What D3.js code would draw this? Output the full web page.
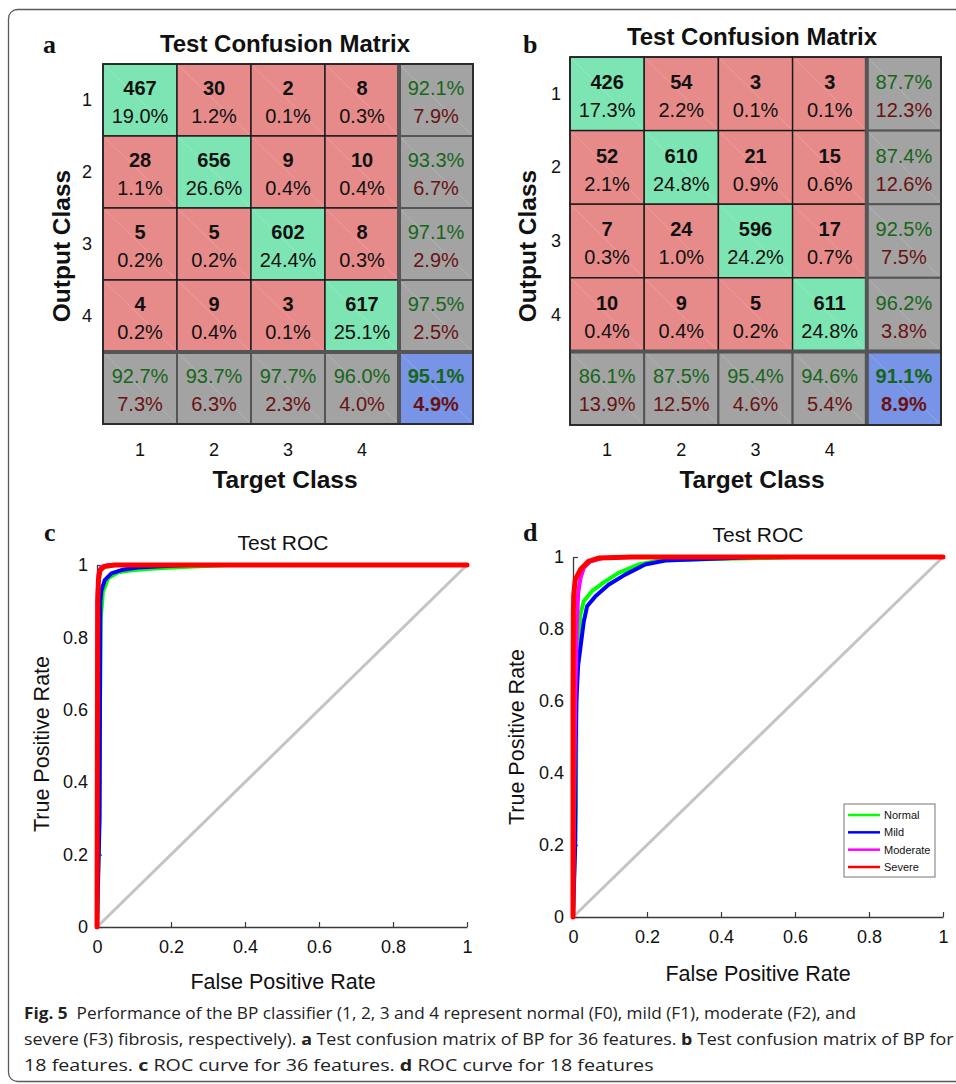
<!DOCTYPE html>
<html><head><meta charset="utf-8">
<script src="https://cdn.jsdelivr.net/npm/d3@7/dist/d3.min.js"></script>
<style>
html,body{margin:0;padding:0;background:#fff;}
svg{display:block;}
</style></head>
<body>
<svg id="fig" width="956" height="1084"></svg>
<script>
// ---------------- DATA ----------------
const classes = ["1", "2", "3", "4"];

// Panel a: 36 features
const countsA = [[467, 30, 2, 8], [28, 656, 9, 10], [5, 5, 602, 8], [4, 9, 3, 617]];
const pctA = [[19.0, 1.2, 0.1, 0.3], [1.1, 26.6, 0.4, 0.4], [0.2, 0.2, 24.4, 0.3], [0.2, 0.4, 0.1, 25.1]];
const rowPrecA = [92.1, 93.3, 97.1, 97.5];
const colRecA = [92.7, 93.7, 97.7, 96.0];
const overallA = 95.1;

// Panel b: 18 features
const countsB = [[426, 54, 3, 3], [52, 610, 21, 15], [7, 24, 596, 17], [10, 9, 5, 611]];
const pctB = [[17.3, 2.2, 0.1, 0.1], [2.1, 24.8, 0.9, 0.6], [0.3, 1.0, 24.2, 0.7], [0.4, 0.4, 0.2, 24.8]];
const rowPrecB = [87.7, 87.4, 92.5, 96.2];
const colRecB = [86.1, 87.5, 95.4, 94.6];
const overallB = 91.1;

// ROC tick labels
const rocTicks = [0, 0.2, 0.4, 0.6, 0.8, 1];
const rocNames = ["Normal", "Mild", "Moderate", "Severe"];

// Panel c ROC points [FPR, TPR]
const normalC = [[0,0],[0.006,0.3],[0.008,0.6],[0.01,0.85],[0.016,0.926],[0.03,0.963],[0.057,0.98],[0.1,0.986],[0.156,0.99],[0.246,0.995],[0.354,1],[1,1]];
const mildC = [[0,0],[0.007,0.3],[0.008,0.6],[0.009,0.9],[0.012,0.93],[0.021,0.958],[0.039,0.977],[0.066,0.986],[0.11,0.993],[0.2,0.998],[0.246,1],[1,1]];
const moderateC = [[0,0],[0,0.5],[0.001,0.9],[0.004,0.975],[0.012,0.995],[0.03,1],[1,1]];
const severeC = [[0,0],[0.001,0.5],[0.002,0.9],[0.004,0.96],[0.008,0.985],[0.02,0.996],[0.048,1],[1,1]];

// Panel d ROC points [FPR, TPR]
const normalD = [[0,0],[0.008,0.3],[0.009,0.55],[0.011,0.747],[0.02,0.84],[0.029,0.877],[0.051,0.905],[0.087,0.932],[0.123,0.956],[0.177,0.979],[0.231,0.99],[0.34,0.994],[0.52,0.997],[0.6,1],[1,1]];
const mildD = [[0,0],[0.006,0.2],[0.007,0.45],[0.009,0.6],[0.014,0.7],[0.02,0.747],[0.029,0.82],[0.038,0.863],[0.06,0.89],[0.096,0.923],[0.141,0.951],[0.195,0.979],[0.249,0.99],[0.34,0.994],[0.43,0.997],[0.5,1],[1,1]];
const moderateD = [[0,0],[0.003,0.3],[0.006,0.6],[0.01,0.8],[0.014,0.9],[0.02,0.94],[0.029,0.97],[0.047,0.988],[0.08,0.997],[0.15,1],[1,1]];
const severeD = [[0,0],[0,0.6],[0.001,0.85],[0.002,0.895],[0.006,0.937],[0.02,0.965],[0.042,0.988],[0.069,0.997],[0.16,1],[1,1]];

// ---------------- STYLE ----------------
const SANS = "'Liberation Sans', Arial, Helvetica, sans-serif";
const SERIF = "'Liberation Serif', 'Times New Roman', serif";
const C_GREEN = "#7de5b4", C_RED = "#e68b89", C_GRAY = "#a3a3a3", C_BLUE = "#7894e6";
const T_GREEN = "#17661a", T_RED = "#6a1212";
const rocColors = ["#00ff00", "#0000ff", "#ff00ff", "#ff0000"];
const rocWidths = [4, 4, 4, 5];

const svg = d3.select("#fig");
svg.append("rect").attr("width", 956).attr("height", 1084).attr("fill", "#fff");
// outer frame
svg.append("rect").attr("x", 8.5).attr("y", 9.5).attr("width", 980).attr("height", 1072)
  .attr("rx", 9).attr("fill", "none").attr("stroke", "#5a5a5a").attr("stroke-width", 1.3);

const fmt = d3.format(".1f");

function confusion(opt) {
  const g = svg.append("g");
  const labels = classes.concat(["S"]);
  const x = d3.scaleBand().domain(labels).range([opt.x0, opt.x1]);
  const y = d3.scaleBand().domain(labels).range([opt.y0, opt.y1]);
  const cells = [];
  labels.forEach((r, i) => labels.forEach((c, j) => cells.push({r, c, i, j})));
  const cg = g.selectAll("g.cell").data(cells).join("g");
  cg.append("rect")
    .attr("x", d => x(d.c)).attr("y", d => y(d.r))
    .attr("width", x.bandwidth()).attr("height", y.bandwidth())
    .attr("fill", d => {
      if (d.i === 4 && d.j === 4) return C_BLUE;
      if (d.i === 4 || d.j === 4) return C_GRAY;
      return d.i === d.j ? C_GREEN : C_RED;
    })
    .attr("stroke", d => (d.i === 4 || d.j === 4) ? "#555" : "#1a1a1a")
    .attr("stroke-width", d => (d.i === 4 || d.j === 4) ? 2 : 1.4);
  // faint diagonal patch seams
  cg.append("line")
    .attr("x1", d => x(d.c) + 2).attr("y1", d => y(d.r) + 2)
    .attr("x2", d => x(d.c) + x.bandwidth() - 2).attr("y2", d => y(d.r) + y.bandwidth() - 2)
    .attr("stroke", "#fff").attr("stroke-opacity", 0.18).attr("stroke-width", 1);
  // top text
  cg.append("text")
    .attr("x", d => x(d.c) + x.bandwidth() / 2)
    .attr("y", d => y(d.r) + y.bandwidth() * 0.34)
    .attr("text-anchor", "middle").attr("dominant-baseline", "central")
    .attr("font-family", SANS).attr("font-size", 20)
    .attr("font-weight", d => (d.i < 4 && d.j < 4) || (d.i === 4 && d.j === 4) ? "bold" : "normal")
    .attr("fill", d => (d.i < 4 && d.j < 4) ? "#111" : T_GREEN)
    .text(d => {
      if (d.i < 4 && d.j < 4) return opt.counts[d.i][d.j];
      if (d.i === 4 && d.j === 4) return fmt(opt.overall) + "%";
      if (d.j === 4) return fmt(opt.rowPrec[d.i]) + "%";
      return fmt(opt.colRec[d.j]) + "%";
    });
  cg.append("text")
    .attr("x", d => x(d.c) + x.bandwidth() / 2)
    .attr("y", d => y(d.r) + y.bandwidth() * 0.72)
    .attr("text-anchor", "middle").attr("dominant-baseline", "central")
    .attr("font-family", SANS).attr("font-size", 20)
    .attr("font-weight", d => (d.i === 4 && d.j === 4) ? "bold" : "normal")
    .attr("fill", d => (d.i < 4 && d.j < 4) ? "#111" : T_RED)
    .text(d => {
      if (d.i < 4 && d.j < 4) return fmt(opt.pct[d.i][d.j]) + "%";
      if (d.i === 4 && d.j === 4) return fmt(100 - opt.overall) + "%";
      if (d.j === 4) return fmt(100 - opt.rowPrec[d.i]) + "%";
      return fmt(100 - opt.colRec[d.j]) + "%";
    });
  // thick separators
  const xs = x("S"), ys = y("S");
  g.append("line").attr("x1", xs).attr("x2", xs).attr("y1", opt.y0).attr("y2", opt.y1)
    .attr("stroke", "#555").attr("stroke-width", 4);
  g.append("line").attr("x1", opt.x0).attr("x2", opt.x1).attr("y1", ys).attr("y2", ys)
    .attr("stroke", "#555").attr("stroke-width", 4);
  g.append("rect").attr("x", opt.x0).attr("y", opt.y0)
    .attr("width", opt.x1 - opt.x0).attr("height", opt.y1 - opt.y0)
    .attr("fill", "none").attr("stroke", "#222").attr("stroke-width", 1.6);

  // axes (class labels)
  const xb = d3.scaleBand().domain(classes).range([opt.x0, xs]);
  const yb = d3.scaleBand().domain(classes).range([opt.y0, ys]);
  const ax = g.append("g").attr("transform", `translate(0,${opt.tickY})`)
    .call(d3.axisBottom(xb).tickSize(0).tickPadding(0));
  ax.select(".domain").remove();
  ax.selectAll("text").attr("font-family", SANS).attr("font-size", 18).attr("fill", "#111")
    .attr("dy", null).attr("dominant-baseline", "central");
  const ay = g.append("g").attr("transform", `translate(${opt.tickX},0)`)
    .call(d3.axisLeft(yb).tickSize(0).tickPadding(0));
  ay.select(".domain").remove();
  ay.selectAll("text").attr("font-family", SANS).attr("font-size", 18).attr("fill", "#111")
    .attr("dy", null).attr("dominant-baseline", "central");

  g.append("text").attr("x", opt.titleX).attr("y", opt.titleY).attr("text-anchor", "middle")
    .attr("font-family", SANS).attr("font-weight", "bold").attr("font-size", 24).attr("fill", "#111")
    .text("Test Confusion Matrix");
  g.append("text").attr("x", opt.titleX).attr("y", 488).attr("text-anchor", "middle")
    .attr("font-family", SANS).attr("font-weight", "bold").attr("font-size", 24.5).attr("fill", "#111")
    .text("Target Class");
  g.append("text").attr("transform", `translate(${opt.outX},246) rotate(-90)`)
    .attr("text-anchor", "middle").attr("dominant-baseline", "central")
    .attr("font-family", SANS).attr("font-weight", "bold").attr("font-size", 24.5).attr("fill", "#111")
    .text("Output Class");
  g.append("text").attr("x", opt.letterX).attr("y", opt.letterY)
    .attr("font-family", SERIF).attr("font-weight", "bold").attr("font-size", 26).attr("fill", "#111")
    .text(opt.letter);
}

confusion({x0: 103, x1: 473, y0: 64, y1: 424, counts: countsA, pct: pctA, rowPrec: rowPrecA,
  colRec: colRecA, overall: overallA, tickY: 450, tickX: 92, titleX: 285, titleY: 52,
  outX: 61, letter: "a", letterX: 43, letterY: 53});
confusion({x0: 570, x1: 941, y0: 57, y1: 425, counts: countsB, pct: pctB, rowPrec: rowPrecB,
  colRec: colRecB, overall: overallB, tickY: 450, tickX: 561, titleX: 752, titleY: 45,
  outX: 527, letter: "b", letterX: 523, letterY: 53});

function roc(opt) {
  const g = svg.append("g");
  const x = d3.scaleLinear().domain([0, 1]).range([opt.x0, opt.x1]);
  const y = d3.scaleLinear().domain([0, 1]).range([opt.y0, opt.y1]);
  const axColor = "#3a3a3a";
  const ax = g.append("g").attr("transform", `translate(0,${opt.y0})`)
    .call(d3.axisBottom(x).tickValues(rocTicks).tickFormat(d3.format("~g")).tickSizeInner(-5).tickSizeOuter(0).tickPadding(13.5));
  const ay = g.append("g").attr("transform", `translate(${opt.x0},0)`)
    .call(d3.axisLeft(y).tickValues(rocTicks).tickFormat(d3.format("~g")).tickSizeInner(-5).tickSizeOuter(0).tickPadding(9));
  [ax, ay].forEach(a => {
    a.select(".domain").attr("stroke", axColor).attr("stroke-width", 1.3);
    a.selectAll(".tick line").attr("stroke", axColor).attr("stroke-width", 1.2);
    a.selectAll("text").attr("font-family", SANS).attr("font-size", 18).attr("fill", "#111");
  });
  // chance line
  const line = d3.line().x(d => x(d[0])).y(d => y(d[1]));
  g.append("path").datum([[0, 0], [1, 1]]).attr("d", line)
    .attr("fill", "none").attr("stroke", "#c4c4c4").attr("stroke-width", 3);
  opt.series.forEach((s, k) => {
    g.append("path").datum(s).attr("d", line).attr("fill", "none")
      .attr("stroke", rocColors[k]).attr("stroke-width", rocWidths[k])
      .attr("stroke-linejoin", "round").attr("stroke-linecap", "round");
  });
  g.append("text").attr("x", opt.titleX).attr("y", opt.titleY).attr("text-anchor", "middle")
    .attr("font-family", SANS).attr("font-size", 21).attr("fill", "#111").text("Test ROC");
  g.append("text").attr("x", opt.titleX).attr("y", opt.xlabY).attr("text-anchor", "middle")
    .attr("font-family", SANS).attr("font-size", 21.5).attr("fill", "#111").text("False Positive Rate");
  g.append("text").attr("transform", `translate(${opt.ylabX},${opt.ylabY}) rotate(-90)`)
    .attr("text-anchor", "middle").attr("dominant-baseline", "central")
    .attr("font-family", SANS).attr("font-size", 21.5).attr("fill", "#111").text("True Positive Rate");
  g.append("text").attr("x", opt.letterX).attr("y", opt.letterY)
    .attr("font-family", SERIF).attr("font-weight", "bold").attr("font-size", 26).attr("fill", "#111")
    .text(opt.letter);
  if (opt.legend) {
    const L = opt.legend;
    const lg = g.append("g");
    lg.append("rect").attr("x", L.x).attr("y", L.y).attr("width", L.w).attr("height", L.h)
      .attr("fill", "#fff").attr("stroke", "#777").attr("stroke-width", 1);
    const ly = d3.scalePoint().domain(rocNames).range([L.y + 11, L.y + L.h - 10]);
    rocNames.forEach((n, k) => {
      lg.append("line").attr("x1", L.x + 4).attr("x2", L.x + 36).attr("y1", ly(n)).attr("y2", ly(n))
        .attr("stroke", rocColors[k]).attr("stroke-width", 2.5);
      lg.append("text").attr("x", L.x + 40).attr("y", ly(n)).attr("dominant-baseline", "central")
        .attr("font-family", SANS).attr("font-size", 11).attr("fill", "#111").text(n);
    });
  }
}

roc({x0: 97, x1: 467, y0: 927, y1: 565, series: [normalC, mildC, moderateC, severeC],
  titleX: 283, titleY: 550, xlabY: 989, ylabX: 42, ylabY: 744, letter: "c", letterX: 44, letterY: 541});
roc({x0: 573, x1: 943, y0: 917, y1: 557, series: [normalD, mildD, moderateD, severeD],
  titleX: 758, titleY: 542, xlabY: 981, ylabX: 517, ylabY: 737, letter: "d", letterX: 523, letterY: 541,
  legend: {x: 844, y: 804, w: 91, h: 73}});

// ---------------- CAPTION ----------------
const captionLines = [
  {w: 833, parts: [["Fig. 5", true], ["  Performance of the BP classifier (1, 2, 3 and 4 represent normal (F0), mild (F1), moderate (F2), and", false]]},
  {w: 930, parts: [["severe (F3) fibrosis, respectively). ", false], ["a", true], [" Test confusion matrix of BP for 36 features. ", false], ["b", true], [" Test confusion matrix of BP for", false]]},
  {w: 630, parts: [["18 features. ", false], ["c", true], [" ROC curve for 36 features. ", false], ["d", true], [" ROC curve for 18 features", false]]}
];
const capG = svg.append("g");
captionLines.forEach((ln, i) => {
  const t = capG.append("text").attr("x", 24).attr("y", 1019 + i * 26)
    .attr("font-family", "'Open Sans', 'Noto Sans', sans-serif").attr("font-size", 15.5).attr("fill", "#222")
    .attr("xml:space", "preserve").style("white-space", "pre");
  ln.parts.forEach(p => t.append("tspan").attr("font-weight", p[1] ? "bold" : "normal").text(p[0]));
  const len = t.node().getComputedTextLength();
  const k = ln.w / len;
  t.attr("transform", `translate(24,0) scale(${k},1) translate(-24,0)`);
});
</script>
</body></html>
